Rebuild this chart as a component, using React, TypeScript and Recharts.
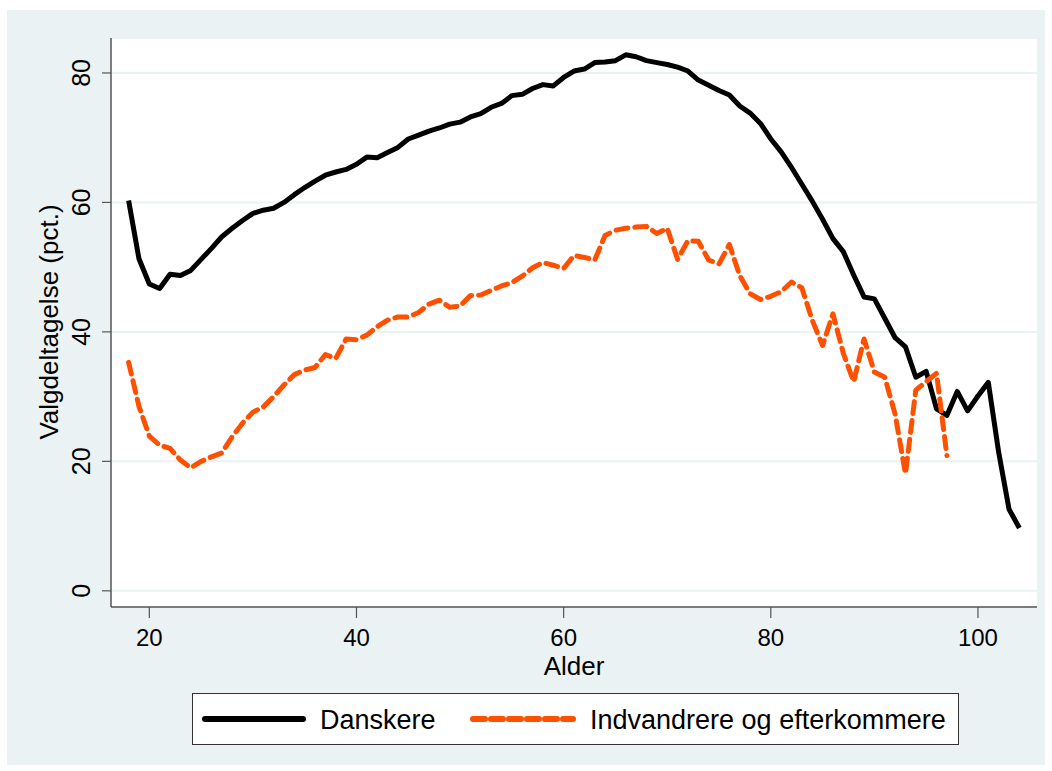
import { CartesianGrid, Legend, Line, LineChart, XAxis, YAxis } from 'recharts'

const FONT = '"Liberation Sans", Arial, sans-serif'
const ORANGE = '#ff5000'

const SERIES = ['Danskere', 'Indvandrere og efterkommere']

const AGES = [
  18, 19, 20, 21, 22, 23, 24, 25, 26, 27, 28, 29, 30, 31, 32, 33, 34, 35, 36, 37,
  38, 39, 40, 41, 42, 43, 44, 45, 46, 47, 48, 49, 50, 51, 52, 53, 54, 55, 56, 57,
  58, 59, 60, 61, 62, 63, 64, 65, 66, 67, 68, 69, 70, 71, 72, 73, 74, 75, 76, 77,
  78, 79, 80, 81, 82, 83, 84, 85, 86, 87, 88, 89, 90, 91, 92, 93, 94, 95, 96, 97,
  98, 99, 100, 101, 102, 103, 104,
]

// turnout, ethnic Danes
const DANSKERE = [
  60.3, 51.3, 47.4, 46.7, 48.9, 48.7, 49.5, 51.2, 52.9, 54.7, 56.0, 57.2, 58.3, 58.8, 59.1, 60.0, 61.2, 62.3, 63.3, 64.2,
  64.7, 65.1, 65.9, 67.0, 66.9, 67.7, 68.5, 69.8, 70.4, 71.0, 71.5, 72.1, 72.4, 73.2, 73.7, 74.7, 75.3, 76.5, 76.7, 77.6,
  78.2, 78.0, 79.3, 80.3, 80.6, 81.6, 81.7, 81.9, 82.8, 82.5, 81.9, 81.6, 81.3, 80.9, 80.3, 78.9, 78.1, 77.3, 76.6, 74.9,
  73.8, 72.2, 69.8, 67.8, 65.4, 62.8, 60.2, 57.4, 54.4, 52.4, 48.8, 45.4, 45.1, 42.1, 39.1, 37.7, 33.0, 33.9, 28.1, 27.1,
  30.8, 27.8, 30.1, 32.2, 21.4, 12.6, 9.7,
]

// turnout, immigrants and descendants (no data past 97)
const INDVANDRERE = [
  35.3, 28.5, 23.9, 22.5, 22.0, 20.2, 19.0, 20.0, 20.7, 21.3, 23.8, 25.9, 27.6, 28.4, 30.0, 31.8, 33.4, 34.1, 34.5, 36.5,
  35.9, 38.9, 38.8, 39.5, 40.8, 41.8, 42.3, 42.3, 43.0, 44.3, 44.9, 43.8, 44.0, 45.6, 45.7, 46.4, 47.1, 47.6, 48.6, 49.9,
  50.7, 50.3, 49.8, 51.8, 51.5, 51.1, 54.9, 55.7, 56.0, 56.2, 56.3, 55.2, 56.0, 51.2, 54.1, 54.0, 51.1, 50.5, 53.5, 48.7,
  45.9, 45.0, 45.5, 46.2, 47.7, 46.8, 41.8, 37.9, 42.8, 36.7, 32.3, 38.9, 33.8, 33.0, 27.3, 18.1, 31.0, 32.3, 33.6, 20.9,
  null, null, null, null, null, null, null,
]

const X_TICKS = [20, 40, 60, 80, 100]
const Y_TICKS = [0, 20, 40, 60, 80]

const data = AGES.map((age, i) => ({
  age,
  dk: DANSKERE[i],
  ind: INDVANDRERE[i],
}))

const YTick = ({ x, y, payload }: any) => (
  <text
    transform={`translate(${x},${y}) rotate(-90)`}
    textAnchor="middle"
    fontSize={25}
    fill="#000"
  >
    {payload.value}
  </text>
)

const LegendBox = () => (
  <svg width={767} height={52} style={{ display: 'block' }}>
    <rect x={0.5} y={0.5} width={766} height={51} fill="#fff" stroke="#333" />
    <line x1={13} x2={111} y1={26} y2={26} stroke="#000" strokeWidth={6} strokeLinecap="round" />
    <text x={128} y={36} fontSize={27} fill="#000">{SERIES[0]}</text>
    <line
      x1={281}
      x2={381}
      y1={26}
      y2={26}
      stroke={ORANGE}
      strokeWidth={6}
      strokeDasharray="12 6"
      strokeLinecap="round"
    />
    <text x={398} y={36} fontSize={27} fill="#000">{SERIES[1]}</text>
  </svg>
)

export default function App() {
  return (
    <div style={{ position: 'absolute', left: 0, top: 0, width: 1052, height: 771, background: '#fff', fontFamily: FONT }}>
      <div style={{ position: 'absolute', left: 7, top: 10, width: 1038, height: 755, background: '#eaf2f3' }} />
      <div style={{ position: 'absolute', left: 0, top: 0 }}>
        <LineChart width={1052} height={771} data={data} margin={{ top: 38, right: 15, bottom: 104, left: 51 }}>
          <CartesianGrid vertical={false} stroke="#eaf2f3" strokeWidth={2} fill="#fff" />
          <XAxis
            dataKey="age"
            type="number"
            domain={[16.3, 105.7]}
            ticks={X_TICKS}
            allowDataOverflow
            height={60}
            tickSize={11}
            tickMargin={11}
            axisLine={{ stroke: '#555', strokeWidth: 1.5 }}
            tickLine={{ stroke: '#555', strokeWidth: 1.2 }}
            tick={{ fontSize: 24, fill: '#000' }}
          />
          <YAxis
            type="number"
            domain={[-2.5, 85.4]}
            ticks={Y_TICKS}
            allowDataOverflow
            width={60}
            tickSize={9}
            tickMargin={12}
            axisLine={{ stroke: '#555', strokeWidth: 1.5 }}
            tickLine={{ stroke: '#555', strokeWidth: 1.2 }}
            tick={<YTick />}
          />
          <Line
            type="linear"
            dataKey="dk"
            name={SERIES[0]}
            stroke="#000"
            strokeWidth={5}
            strokeLinejoin="round"
            dot={false}
            isAnimationActive={false}
          />
          <Line
            type="linear"
            dataKey="ind"
            name={SERIES[1]}
            stroke={ORANGE}
            strokeWidth={5}
            strokeDasharray="12 7"
            strokeLinecap="round"
            strokeLinejoin="round"
            dot={false}
            isAnimationActive={false}
          />
          <Legend
            layout="horizontal"
            verticalAlign="middle"
            align="center"
            content={<LegendBox />}
            wrapperStyle={{ left: 192, top: 693, width: 767, height: 52 }}
          />
          <text x={574} y={675} textAnchor="middle" fontSize={26} fill="#000">Alder</text>
          <text transform="translate(58,322) rotate(-90)" textAnchor="middle" fontSize={26} fill="#000">
            Valgdeltagelse (pct.)
          </text>
        </LineChart>
      </div>
    </div>
  )
}
